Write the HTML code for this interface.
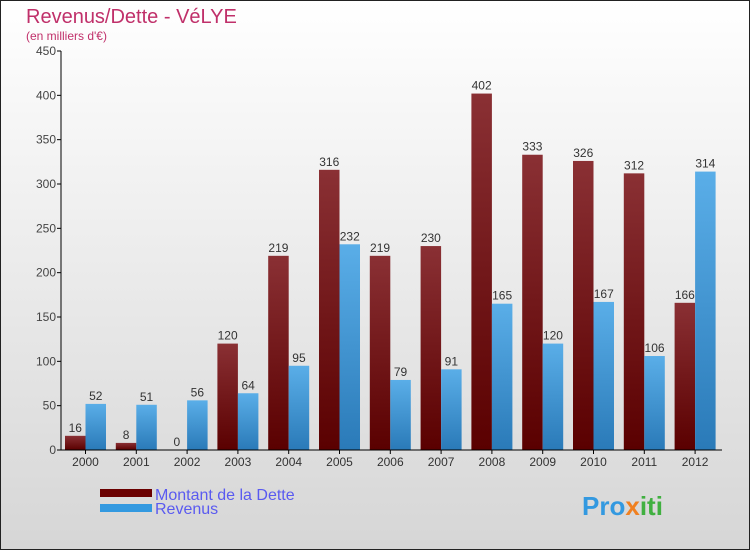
<!DOCTYPE html>
<html><head><meta charset="utf-8"><style>
body{margin:0}
svg{display:block;font-family:"Liberation Sans",sans-serif}
</style></head><body>
<svg id="chart" width="750" height="550" viewBox="0 0 750 550">
<defs>
<linearGradient id="bg" x1="0" y1="0" x2="0" y2="1"><stop offset="0" stop-color="#ffffff"/><stop offset="1" stop-color="#d6d6d6"/></linearGradient>
<linearGradient id="gd" x1="0" y1="0" x2="0" y2="1"><stop offset="0" stop-color="#8a3034"/><stop offset="1" stop-color="#5a0000"/></linearGradient>
<linearGradient id="gr" x1="0" y1="0" x2="0" y2="1"><stop offset="0" stop-color="#5aaee8"/><stop offset="1" stop-color="#2a7ab8"/></linearGradient>
</defs>
<rect x="0.5" y="0.5" width="749" height="549" fill="url(#bg)" stroke="#222"/>
<text x="26" y="23" font-size="20" fill="#c0306a">Revenus/Dette - VéLYE</text>
<text x="26" y="40" font-size="12" fill="#c0306a">(en milliers d'€)</text>
<g id="plot"></g>
<g>
<rect x="100" y="489" width="52" height="8" fill="#6a0000"/>
<text x="155" y="500" font-size="16" fill="#5a5af0">Montant de la Dette</text>
<rect x="100" y="504" width="52" height="8" fill="#3399e0"/>
<text x="155" y="514" font-size="16" fill="#5a5af0">Revenus</text>
</g>
<text x="582" y="515" font-size="26" font-weight="bold" fill="#3399e0">Pro<tspan fill="#f08020">x</tspan><tspan fill="#40b040">iti</tspan></text>
</svg>
<script>
const years=["2000","2001","2002","2003","2004","2005","2006","2007","2008","2009","2010","2011","2012"];
const dette=[16,8,0,120,219,316,219,230,402,333,326,312,166];
const revenus=[52,51,56,64,95,232,79,91,165,120,167,106,314];
const yTicks=[0,50,100,150,200,250,300,350,400,450];
const NS="http://www.w3.org/2000/svg";
const g=document.getElementById('plot');
const x0=61,yBase=450,yTop=51,yMax=450,step=50.8,bw=20.5;
const y=v=>yBase-(v/yMax)*(yBase-yTop);
function mk(t,a,p){const e=document.createElementNS(NS,t);for(const k in a)e.setAttribute(k,a[k]);(p||g).appendChild(e);return e;}
yTicks.forEach(v=>{
  const l=mk('line',{x1:x0-4,x2:x0,y1:y(v),y2:y(v),stroke:'#000'});
  
  
  const t=mk('text',{x:x0-5,y:y(v)+4,'font-size':12,fill:'#444','text-anchor':'end'});
  t.textContent=v;
  
  
});
years.forEach((yr,i)=>{
  const gx=x0+4+i*step;
  const d=mk('rect',{x:gx,y:y(dette[i]),width:bw,height:yBase-y(dette[i]),fill:'url(#gd)'});
  
  
  const r=mk('rect',{x:gx+bw,y:y(revenus[i]),width:bw,height:yBase-y(revenus[i]),fill:'url(#gr)'});
  
  
  const t1=mk('text',{x:gx+bw/2,y:y(dette[i])-4,'font-size':12,fill:'#333','text-anchor':'middle'});
  t1.textContent=dette[i];
  
  
  const t2=mk('text',{x:gx+bw*1.5,y:y(revenus[i])-4,'font-size':12,fill:'#333','text-anchor':'middle'});
  t2.textContent=revenus[i];
  
  
  const tk=mk('line',{x1:gx+bw,x2:gx+bw,y1:yBase,y2:yBase+4,stroke:'#000'});
  
  
  const xl=mk('text',{x:gx+bw,y:466,'font-size':12,fill:'#333','text-anchor':'middle'});
  xl.textContent=yr;
  
  
});
const ya=mk('line',{x1:x0,x2:x0,y1:yTop,y2:yBase,stroke:'#000'});


const xa=mk('line',{x1:x0,x2:722,y1:yBase,y2:yBase,stroke:'#000'});


</script>
</body></html>
